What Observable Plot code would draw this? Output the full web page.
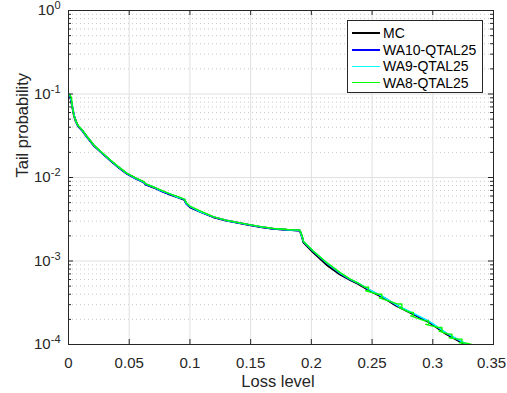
<!DOCTYPE html>
<html><head><meta charset="utf-8">
<script src="https://cdn.jsdelivr.net/npm/d3@7"></script>
<script src="https://cdn.jsdelivr.net/npm/@observablehq/plot@0.6"></script>
<style>
body{margin:0;background:#fff;font-family:"Liberation Sans",Arial,sans-serif;}
#wrap{position:relative;width:507px;height:393px;}
#legend{position:absolute;left:347px;top:20px;width:136px;height:73px;border:1px solid #262626;background:#fff;font-size:14px;color:#000;box-sizing:border-box;}
.row{position:absolute;left:4px;height:16px;display:flex;align-items:center;white-space:nowrap;}
.sw{width:28px;margin-right:3px;}
</style></head><body><div id="wrap"></div>
<script>
// ---- data ----
const xTicks = [0, 0.05, 0.1, 0.15, 0.2, 0.25, 0.3, 0.35];
const xTickLabels = ["0", "0.05", "0.1", "0.15", "0.2", "0.25", "0.3", "0.35"];
const yMajor = [1e-4, 1e-3, 1e-2, 1e-1, 1];
const yMinorMult = [2, 3, 4, 5, 6, 7, 8, 9];
const seriesNames = ["MC", "WA10-QTAL25", "WA9-QTAL25", "WA8-QTAL25"];
const seriesColors = ["#000000", "#0000ff", "#00ffff", "#00ff00"];

const mcLoss = [0.001,0.002,0.003,0.0045,0.006,0.008,0.0113,0.015,0.0208,0.027,0.0345,0.041,0.0482,0.055,0.062,0.0635,0.070,0.0756,0.083,0.090,0.0955,0.097,0.1002,0.108,0.1194,0.130,0.1468,0.158,0.1687,0.180,0.1905,0.1925,0.1934,0.2016,0.2126,0.2235,0.2317,0.2385,0.2482,0.260,0.2701,0.285,0.2975,0.3112,0.3262,0.331];
const mcTail = [0.098,0.085,0.072,0.055,0.047,0.041,0.0366,0.031,0.0242,0.0200,0.0160,0.0133,0.0111,0.0098,0.0088,0.0083,0.0076,0.0070,0.0063,0.0058,0.0054,0.0049,0.0044,0.0039,0.00335,0.00305,0.00274,0.00256,0.00243,0.00236,0.00232,0.0019,0.00168,0.00126,0.00090,0.00069,0.000595,0.000533,0.000440,0.00036,0.000290,0.000226,0.000183,0.000133,0.000101,0.000097];

const wa10Loss = [0.001,0.002,0.003,0.0045,0.006,0.008,0.0113,0.015,0.0208,0.027,0.0345,0.041,0.0482,0.055,0.062,0.0635,0.070,0.0756,0.083,0.090,0.0955,0.097,0.1002,0.108,0.1194,0.130,0.1468,0.158,0.1687,0.180,0.1905,0.1922,0.1934,0.2016,0.2126,0.2235,0.2317,0.2385,0.2482,0.260,0.2701,0.285,0.2975,0.3112,0.3262,0.333];
const wa10Tail = [0.097,0.084,0.071,0.056,0.048,0.041,0.0362,0.0305,0.0240,0.0198,0.0159,0.0132,0.0110,0.0097,0.0087,0.0082,0.0076,0.0069,0.0063,0.0058,0.0054,0.0048,0.0044,0.0039,0.00334,0.00304,0.00273,0.00255,0.00242,0.00235,0.00231,0.0020,0.00170,0.00130,0.00094,0.00071,0.000600,0.000540,0.000448,0.000365,0.000296,0.000230,0.000186,0.000136,0.000103,0.000097];

const wa9Loss = [0.001,0.002,0.003,0.0045,0.006,0.008,0.0113,0.015,0.0208,0.027,0.0345,0.041,0.0482,0.055,0.062,0.0635,0.070,0.0756,0.083,0.090,0.0955,0.097,0.1002,0.108,0.1194,0.130,0.1468,0.158,0.1687,0.180,0.1905,0.1925,0.1934,0.2016,0.2126,0.2235,0.2317,0.2385,0.2482,0.260,0.2701,0.285,0.2975,0.3112,0.3262,0.332];
const wa9Tail = [0.099,0.086,0.073,0.056,0.047,0.0415,0.0368,0.0312,0.0244,0.0201,0.0161,0.0134,0.0112,0.0098,0.0088,0.0084,0.0077,0.0070,0.0064,0.0058,0.0055,0.0049,0.0045,0.0039,0.00337,0.00306,0.00275,0.00257,0.00244,0.00237,0.00233,0.0019,0.00171,0.00131,0.00095,0.00072,0.000605,0.000545,0.000450,0.000367,0.000297,0.000232,0.000188,0.000137,0.000104,0.000098];

const wa8Loss = [0.001,0.0025,0.003,0.0045,0.006,0.008,0.0113,0.015,0.0208,0.027,0.0345,0.041,0.0482,0.055,0.062,0.0635,0.070,0.0756,0.083,0.090,0.0955,0.097,0.1002,0.108,0.1194,0.130,0.1468,0.158,0.1687,0.180,0.1905,0.1925,0.1934,0.2016,0.2126,0.2235,0.2317,0.2385,
  0.2440,0.2470,0.2470,0.2448, 0.2550,0.2580,0.2580,0.2560, 0.2715,0.2745,0.2745,0.2722, 0.2810,0.2840,0.2840,0.2818, 0.2935,0.2965,0.2965,0.2942, 0.3045,0.3075,0.3075,0.3052, 0.3128,0.3158,0.3158,0.3135, 0.3210,0.3240,0.3240,0.3218, 0.3280,0.3320,0.3330];
const wa8Tail = [0.099,0.090,0.072,0.055,0.048,0.042,0.0370,0.0312,0.0245,0.0202,0.0162,0.0135,0.0112,0.0099,0.0089,0.0084,0.0077,0.0071,0.0064,0.0059,0.0055,0.0050,0.0045,0.0040,0.00338,0.00307,0.00276,0.00258,0.00245,0.00238,0.00234,0.0020,0.00172,0.00132,0.00096,0.00073,0.000610,0.000545,
  0.000485,0.000485,0.000435,0.000440, 0.000400,0.000400,0.000360,0.000362, 0.000305,0.000305,0.000275,0.000278, 0.000242,0.000242,0.000218,0.000220, 0.000192,0.000192,0.000172,0.000174, 0.000160,0.000160,0.000143,0.000145, 0.000133,0.000133,0.000119,0.000120, 0.000116,0.000116,0.000104,0.000105, 0.000104,0.000100,0.000098];

// ---- build ----
const W = 507, H = 393, mL = 68, mR = 14, mT = 10, mB = 49;
const pw = W - mL - mR, ph = H - mT - mB;
const yMinor = yMajor.slice(0, -1).flatMap(d => yMinorMult.map(m => d * m));
const toPts = (xs, ys) => xs.map((x, i) => ({x, y: ys[i]}));
const series = [toPts(mcLoss, mcTail), toPts(wa10Loss, wa10Tail), toPts(wa9Loss, wa9Tail), toPts(wa8Loss, wa8Tail)];
const widths = [2, 1.5, 1.4, 1.4];
const legWidths = [2, 2, 1, 1];
const axisCol = "#262626";
const lastTick = xTicks[xTicks.length - 1];

const chart = Plot.plot({
  width: W, height: H,
  marginLeft: mL, marginRight: mR, marginTop: mT, marginBottom: mB,
  style: {fontFamily: "'Liberation Sans', Arial, sans-serif", fontSize: "15px", color: axisCol, background: "#fff"},
  x: {domain: [0, 0.35]},
  y: {type: "log", domain: [1e-4, 1]},
  marks: [
    Plot.ruleY(yMinor, {stroke: "#c8c8c8", strokeDasharray: "1,3"}),
    Plot.ruleX(xTicks.slice(1, -1), {stroke: "#e0e0e0"}),
    Plot.ruleY(yMajor.slice(1, -1), {stroke: "#e0e0e0"}),
    ...series.map((s, i) => Plot.line(s, {x: "x", y: "y", stroke: seriesColors[i], strokeWidth: widths[i], clip: true})),
    Plot.ruleX(xTicks, {stroke: axisCol, insetTop: ph - 5}),
    Plot.ruleX(xTicks, {stroke: axisCol, insetBottom: ph - 5}),
    Plot.ruleY(yMajor, {stroke: axisCol, insetRight: pw - 5}),
    Plot.ruleY(yMajor, {stroke: axisCol, insetLeft: pw - 5}),
    Plot.ruleY(yMinor, {stroke: axisCol, insetRight: pw - 3}),
    Plot.ruleY(yMinor, {stroke: axisCol, insetLeft: pw - 3}),
    Plot.frame({stroke: axisCol}),
    Plot.axisX(xTicks.slice(0, -1), {tickSize: 0, tickPadding: 13, tickFormat: d => xTickLabels[xTicks.indexOf(d)], label: null, fontSize: 15}),
    Plot.axisX([lastTick], {tickSize: 0, tickPadding: 13, tickFormat: d => xTickLabels[xTicks.indexOf(d)], label: null, fontSize: 15, dx: -2}),
    Plot.axisY(yMajor, {tickSize: 0, tickPadding: 8, tickFormat: d => "10^" + Math.round(Math.log10(d)), label: null, fontSize: 15}),
    Plot.text(["Loss level"], {frameAnchor: "bottom", dy: 42, dx: -3, fontSize: 16.5, fill: axisCol}),
    Plot.text(["Tail probability"], {frameAnchor: "left", dx: -46, rotate: -90, fontSize: 16.5, fill: axisCol})
  ]
});

// superscript exponents on y tick labels
chart.querySelectorAll('g[aria-label="y-axis tick label"] text').forEach(t => {
  const s = t.textContent;
  if (s.includes("^")) {
    const [b, e] = s.split("^");
    t.textContent = b;
    const ts = document.createElementNS("http://www.w3.org/2000/svg", "tspan");
    ts.setAttribute("dy", "-0.55em");
    ts.setAttribute("font-size", "11px");
    ts.textContent = e;
    t.appendChild(ts);
  }
});

const wrap = document.getElementById("wrap");
wrap.appendChild(chart);

const leg = document.createElement("div");
leg.id = "legend";
seriesNames.forEach((n, i) => {
  const r = document.createElement("div");
  r.className = "row";
  r.style.top = (4 + i * 16.5) + "px";
  const sw = document.createElement("div");
  sw.className = "sw";
  sw.style.borderTop = legWidths[i] + "px solid " + seriesColors[i];
  r.appendChild(sw);
  const sp = document.createElement("span");
  sp.textContent = n;
  r.appendChild(sp);
  leg.appendChild(r);
});
wrap.appendChild(leg);
</script></body></html>
